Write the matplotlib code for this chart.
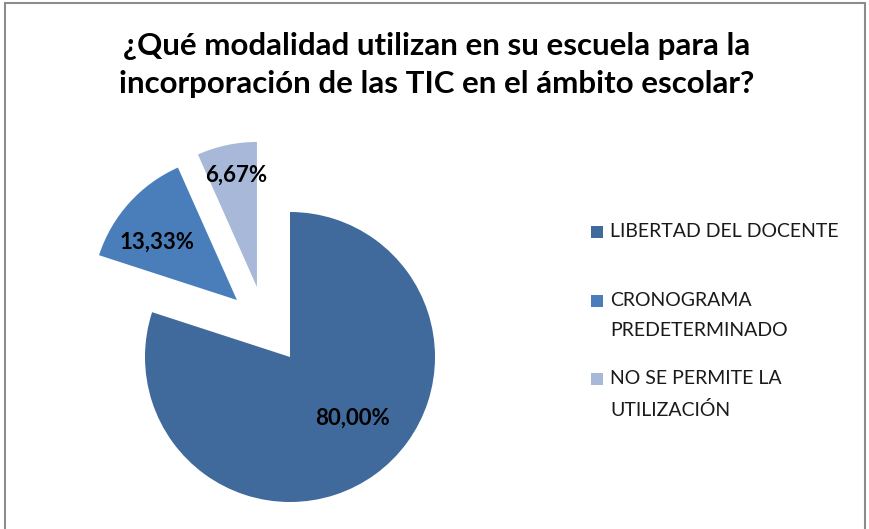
import matplotlib
matplotlib.use("Agg")
import matplotlib.pyplot as plt
from matplotlib.patches import Rectangle

plt.rcParams['font.family'] = ['Lato', 'DejaVu Sans']

# datos
categorias = ['LIBERTAD DEL DOCENTE', 'CRONOGRAMA\nPREDETERMINADO', 'NO SE PERMITE LA\nUTILIZACIÓN']
porcentajes = [80.00, 13.33, 6.67]
titulo = '¿Qué modalidad utilizan en su escuela para la\nincorporación de las TIC en el ámbito escolar?'

colores = ['#40699C', '#4A7EBB', '#A7B8D8']
# desplazamiento de las porciones separadas (en radios)
centros = [(0, 0), (-0.366, 0.393), (-0.228, 0.483)]
pos_etiquetas = [(0.43, -0.42), (-0.92, 0.79), (-0.37, 1.255)]

W, H = 870, 529
fig = plt.figure(figsize=(W / 100, H / 100), dpi=100)

# eje: centro del pie en (290, 357) px, radio 145 px
ax = fig.add_axes([0, 0, 580 / W, 1])
wedges, _ = ax.pie(porcentajes, colors=colores, startangle=90, counterclock=False,
                   radius=1, wedgeprops=dict(linewidth=0))
for w, c in zip(wedges, centros):
    w.set_center(c)
for p, (x, y) in zip(porcentajes, pos_etiquetas):
    ax.text(x, y, f'{p:.2f}%'.replace('.', ','), ha='center', va='center',
            fontsize=16, fontweight='bold', color='black')
ax.set_aspect('auto')
ax.set_xlim(-2, 2)
ax.set_ylim(-172 / 145, 357 / 145)
ax.axis('off')

fig.text(437 / W, 1 - 65 / H, titulo, ha='center', va='center', fontsize=22.5,
         fontweight='bold', linespacing=1.45)

# leyenda
leg_y = [232, 301, 379]
for cat, col, y in zip(categorias, colores, leg_y):
    fig.patches.append(Rectangle((591 / W, 1 - (y + 6) / H), 12 / W, 12 / H,
                                 transform=fig.transFigure, facecolor=col, edgecolor='none'))
    fig.text(610 / W, 1 - (y - 9) / H, cat, ha='left', va='top', fontsize=14,
             color='#1A1A1A', linespacing=1.9)

# marco
fig.patches.append(Rectangle((5 / W, -0.05), 860 / W, 1 - 3 / H + 0.05,
                             transform=fig.transFigure, fill=False,
                             edgecolor='#8C8C8C', linewidth=1.5))

fig.savefig('out.png', dpi=100)
